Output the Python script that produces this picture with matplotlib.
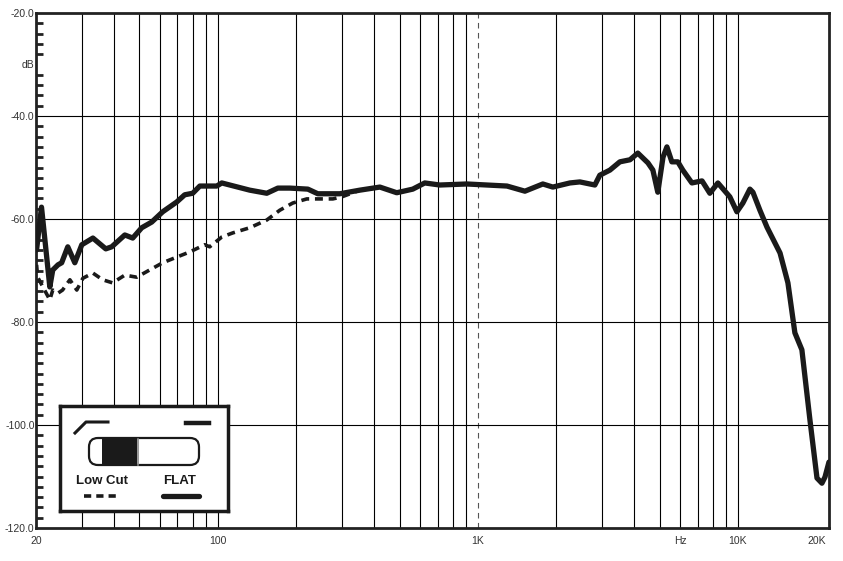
import numpy as np
import matplotlib.pyplot as plt
from matplotlib.patches import FancyBboxPatch, Rectangle

plt.rcParams['font.family'] = ['Liberation Sans', 'DejaVu Sans']

# resposta FLAT (linha continua)
flat_hz = [20.1, 21.0, 22.6, 23.2, 24.3, 25.1, 26.5, 28.2, 30.0, 33.1, 37.1, 39.1,
           43.9, 47.1, 51.0, 55.7, 61.4, 69.5, 74.6, 80.1, 85.3, 99.1, 103.6, 132.7,
           154.3, 170.2, 189.2, 222, 242.5, 294.4, 351.6, 420, 487.7, 562, 625, 714,
           907, 1294, 1517, 1778, 1942, 2259, 2468, 2818, 2944, 3221, 3516, 3846,
           4121, 4508, 4710, 4920, 5152, 5333, 5572, 5875, 6138, 6653, 7278, 7800,
           8375, 9311, 9910, 10450, 11120, 11420, 12150, 12940, 14520, 15570, 16560,
           17620, 18920, 20140, 21040, 21620, 22390]
flat_db = [-66.0, -57.7, -73.2, -69.9, -68.9, -68.5, -65.4, -68.5, -65.0, -63.7, -65.8, -65.4,
           -63.1, -63.7, -61.7, -60.6, -58.6, -56.7, -55.3, -55.0, -53.6, -53.6, -53.0, -54.4,
           -55.0, -54.0, -54.0, -54.2, -55.1, -55.1, -54.4, -53.8, -54.9, -54.2, -53.0, -53.4,
           -53.2, -53.6, -54.6, -53.2, -53.8, -53.0, -52.8, -53.4, -51.5, -50.5, -48.9, -48.5,
           -47.2, -49.1, -50.5, -54.8, -48.0, -46.0, -48.9, -48.9, -50.5, -53.0, -52.6, -55.0,
           -53.0, -55.7, -58.6, -56.9, -54.2, -54.8, -58.3, -61.6, -66.6, -72.4, -82.1,
           -85.4, -99.0, -110.3, -111.3, -110.1, -107.2]

# resposta Low Cut (tracejada)
low_hz = [20.1, 20.3, 22.6, 23.2, 24.3, 25.3, 27.0, 28.7, 30.3, 33.1, 36.1, 39.4, 43.9,
          48.8, 54.7, 61.4, 69.5, 78.0, 89.1, 93.1, 103.6, 114.2, 132.7, 154.3, 173.1,
          194.2, 219.9, 246.8, 276.9, 299.9, 351.6, 420]
low_db = [-68.9, -71.3, -75.7, -73.8, -74.4, -73.8, -71.8, -73.8, -71.5, -70.5, -71.8, -72.4,
          -70.9, -71.3, -69.9, -68.5, -67.4, -66.4, -65.0, -65.4, -63.5, -62.7, -61.7, -60.2,
          -58.3, -56.9, -56.1, -56.1, -56.1, -55.7, -54.4, -53.8]

grid_hz = [30, 40, 50, 60, 70, 80, 90, 100, 200, 300, 400, 500, 600, 700, 800, 900,
           2000, 3000, 4000, 5000, 6000, 7000, 8000, 9000, 10000]
xtick_hz = [20, 100, 1000, 6000, 10000, 20000]
xtick_lbl = ['20', '100', '1K', 'Hz', '10K', '20K']
ytick_db = [-20, -30, -40, -60, -80, -100, -120]
ytick_lbl = ['-20.0', 'dB', '-40.0', '-60.0', '-80.0', '-100.0', '-120.0']

fig = plt.figure(figsize=(8.43, 5.61), dpi=100)
ax = fig.add_axes([36/843, 33/561, 793/843, 515/561])
ax.set_xscale('log')
ax.set_xlim(20, 22400)
ax.set_ylim(-120, -20)

for f in grid_hz:
    ax.axvline(f, color='black', lw=0.8, zorder=1)
ax.axvline(1000, color='#555555', lw=0.8, ls=(0, (5, 4)), zorder=1)
for d in [-40, -60, -80, -100]:
    ax.axhline(d, color='black', lw=0.8, zorder=1)

ax.plot(low_hz, low_db, color='#1a1a1a', lw=2.6, ls=(0, (2.2, 1.6)), zorder=3)
ax.plot(flat_hz, flat_db, color='#1a1a1a', lw=3.8, solid_joinstyle='round',
        solid_capstyle='round', zorder=4)

for s in ax.spines.values():
    s.set_linewidth(2.0)
    s.set_color('#222222')

ax.set_xticks(xtick_hz)
ax.set_xticklabels(xtick_lbl)
ax.xaxis.set_minor_locator(plt.NullLocator())
ax.set_yticks(ytick_db)
ax.set_yticklabels(ytick_lbl)
ax.set_yticks(np.arange(-118, -20, 2), minor=True)
ax.tick_params(axis='x', length=0, pad=6, labelsize=7.5, labelcolor='#333333')
ax.tick_params(axis='y', which='major', length=0, pad=1, labelsize=7.5, labelcolor='#333333')
ax.tick_params(axis='y', which='minor', direction='in', length=5, width=2, color='#222222')

# caixa da legenda (chave Low Cut / FLAT)
lg = fig.add_axes([60/843, 50/561, 168/843, 105/561])
lg.set_xlim(0, 168)
lg.set_ylim(105, 0)
lg.set_xticks([])
lg.set_yticks([])
for s in lg.spines.values():
    s.set_linewidth(2.5)
    s.set_color('#1a1a1a')
lg.plot([15, 26, 48], [27, 16, 16], color='#1a1a1a', lw=2.2)
lg.plot([126, 149], [17, 17], color='#1a1a1a', lw=3.2)
lg.add_patch(FancyBboxPatch((29, 32), 110, 27, boxstyle='round,pad=0,rounding_size=9',
                            fc='white', ec='#1a1a1a', lw=1.6, zorder=2))
lg.add_patch(Rectangle((42, 32.5), 35, 26, fc='#1a1a1a', ec='none', zorder=3))
lg.plot([77.5, 77.5], [33, 58.5], color='#888888', lw=1.2, zorder=3)
lg.text(42, 75, 'Low Cut', ha='center', va='center', fontsize=9.5, fontweight='bold', color='#1a1a1a')
lg.text(120, 75, 'FLAT', ha='center', va='center', fontsize=9.5, fontweight='bold', color='#1a1a1a')
lg.plot([24, 60], [90, 90], color='#1a1a1a', lw=2.6, ls=(0, (2.0, 1.4)))
lg.plot([103, 139], [90, 90], color='#1a1a1a', lw=3.8, solid_capstyle='round')

plt.savefig('out.png', dpi=100)
